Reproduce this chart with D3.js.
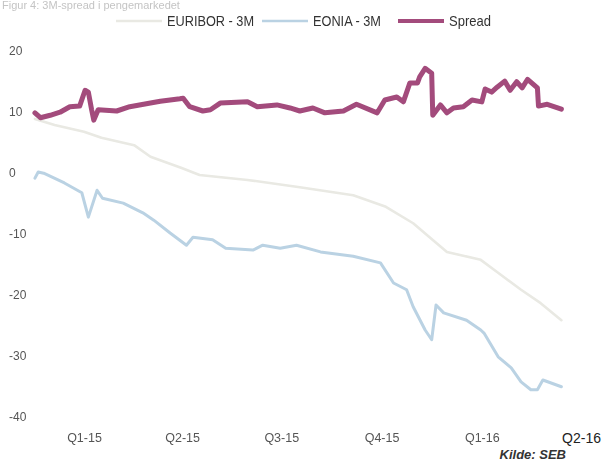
<!DOCTYPE html>
<html>
<head>
<meta charset="utf-8">
<script src="https://cdn.jsdelivr.net/npm/d3@7"></script>
<style>
  html, body { margin: 0; padding: 0; background: #fff; }
  svg { display: block; }
  text { font-family: "Liberation Sans", "DejaVu Sans", sans-serif; }
</style>
</head>
<body>
<svg id="chart" width="602" height="462"></svg>
<script>
// 3M money-market rates (basis points) and their spread
const euriborDates = ["2014-11-17","2014-12-05","2015-01-01","2015-01-17","2015-02-16","2015-03-03","2015-03-31","2015-04-17","2015-05-31","2015-07-18","2015-09-05","2015-10-05","2015-10-30","2015-11-20","2015-11-30","2015-12-31","2016-01-15","2016-02-06","2016-02-24","2016-03-14"];
const euriborValues = [8.7, 7.7, 6.6, 5.6, 4.4, 2.5, 0.7, -0.5, -1.3, -2.5, -3.8, -5.7, -8.4, -11.6, -13.1, -14.4, -16.4, -19.3, -21.5, -24.3];

const eoniaDates = ["2014-11-17","2014-11-20","2014-11-25","2014-12-14","2014-12-30","2015-01-05","2015-01-13","2015-01-18","2015-02-06","2015-02-24","2015-03-06","2015-03-21","2015-04-05","2015-04-11","2015-04-29","2015-05-11","2015-06-05","2015-06-14","2015-06-30","2015-07-15","2015-08-06","2015-09-05","2015-09-30","2015-10-12","2015-10-24","2015-10-30","2015-11-10","2015-11-16","2015-11-20","2015-11-27","2015-12-18","2015-12-31","2016-01-03","2016-01-16","2016-01-28","2016-02-06","2016-02-15","2016-02-21","2016-02-26","2016-03-14"];
const eoniaValues = [-1.0, 0.0, -0.2, -1.8, -3.4, -7.4, -3.0, -4.3, -5.1, -6.7, -7.9, -10.0, -12.0, -10.7, -11.1, -12.5, -12.8, -12.0, -12.5, -12.0, -13.1, -13.8, -14.9, -18.2, -19.3, -22.1, -25.9, -27.5, -21.8, -23.1, -24.3, -25.9, -26.4, -30.3, -32.1, -34.4, -35.7, -35.7, -34.1, -35.2];

const spreadDates = ["2014-11-17","2014-11-22","2014-12-01","2014-12-10","2014-12-19","2014-12-28","2015-01-02","2015-01-05","2015-01-08","2015-01-10","2015-01-14","2015-01-31","2015-02-12","2015-03-03","2015-03-12","2015-03-30","2015-04-02","2015-04-08","2015-04-20","2015-04-27","2015-05-06","2015-05-31","2015-06-09","2015-06-27","2015-07-09","2015-07-18","2015-07-30","2015-08-10","2015-08-27","2015-09-08","2015-09-27","2015-10-04","2015-10-15","2015-10-21","2015-10-27","2015-11-03","2015-11-05","2015-11-10","2015-11-16","2015-11-17","2015-11-24","2015-11-30","2015-12-06","2015-12-15","2015-12-23","2016-01-01","2016-01-04","2016-01-10","2016-01-15","2016-01-22","2016-01-27","2016-02-02","2016-02-07","2016-02-12","2016-02-21","2016-02-22","2016-03-01","2016-03-14"];
const spreadValues = [9.7, 8.9, 9.3, 9.8, 10.7, 10.8, 13.4, 13.1, 10.2, 8.5, 10.2, 10.0, 10.7, 11.3, 11.6, 12.0, 12.1, 10.7, 10.0, 10.2, 11.3, 11.5, 10.7, 11.0, 10.5, 10.0, 10.5, 9.7, 10.0, 11.1, 9.7, 11.8, 12.3, 11.5, 14.6, 14.6, 15.6, 17.0, 16.2, 9.3, 11.0, 9.7, 10.5, 10.7, 11.8, 11.5, 13.6, 13.1, 13.9, 14.9, 13.4, 14.8, 13.8, 15.2, 13.8, 10.8, 11.1, 10.3];

const quarterLabels = ["Q1-15", "Q2-15", "Q3-15", "Q4-15", "Q1-16", "Q2-16"];
const quarterDates = ["2015-01-01", "2015-04-01", "2015-07-01", "2015-10-01", "2016-01-01", "2016-04-01"];
const yTicks = [20, 10, 0, -10, -20, -30, -40];

const seriesNames = ["EURIBOR - 3M", "EONIA - 3M", "Spread"];
const seriesColors = ["#e9e9e3", "#bad2e3", "#a34b7c"];
const seriesWidths = [2.6, 3, 5];

const parse = d3.timeParse("%Y-%m-%d");
const svg = d3.select("#chart");

const x = d3.scaleTime()
  .domain([parse(quarterDates[0]), parse(quarterDates[quarterDates.length - 1])])
  .range([84, 581]);
const y = d3.scaleLinear().domain([-40, 20]).range([416, 50]);

// soft rendering
const defs = svg.append("defs");
defs.append("filter").attr("id", "soft")
  .append("feGaussianBlur").attr("stdDeviation", 0.45);

// faint heading along the top edge
svg.append("text")
  .attr("x", 2).attr("y", 9)
  .attr("font-size", 11).attr("fill", "#c4c4c4")
  .attr("filter", "url(#soft)")
  .text("Figur 4: 3M-spread i pengemarkedet");

// y axis labels
const yAxis = d3.axisLeft(y).tickValues(yTicks).tickSize(0).tickFormat(d => String(d));
const gy = svg.append("g").attr("transform", "translate(9,0)").call(yAxis);
gy.select(".domain").remove();
gy.selectAll("text")
  .attr("x", 0).attr("text-anchor", "start").attr("dy", "0.35em")
  .attr("font-size", 12).attr("fill", "#555")
  .attr("filter", "url(#soft)");

// x axis labels
const xAxis = d3.axisBottom(x)
  .tickValues(quarterDates.map(parse))
  .tickSize(0)
  .tickFormat((d, i) => quarterLabels[i]);
const gx = svg.append("g").attr("transform", "translate(0,430)").call(xAxis);
gx.select(".domain").remove();
const lastQ = quarterLabels.length - 1;
gx.selectAll("text")
  .attr("filter", (d, i) => i === lastQ ? null : "url(#soft)")
  .attr("fill", (d, i) => i === lastQ ? "#222" : "#555")
  .attr("font-size", (d, i) => i === lastQ ? 14 : 12.5);

// lines
const series = [
  { dates: euriborDates, values: euriborValues },
  { dates: eoniaDates, values: eoniaValues },
  { dates: spreadDates, values: spreadValues }
];
const line = d3.line().x(d => x(d.date)).y(d => y(d.value));
series.forEach((s, i) => {
  const pts = s.dates.map((dt, j) => ({ date: parse(dt), value: s.values[j] }));
  svg.append("path")
    .datum(pts)
    .attr("d", line)
    .attr("fill", "none")
    .attr("stroke", seriesColors[i])
    .attr("stroke-width", seriesWidths[i])
    .attr("stroke-linejoin", "round")
    .attr("stroke-linecap", "round")
    .attr("filter", "url(#soft)");
});

// legend
const legendSwatchX = [116, 262, 398];
const legendTextLen = [87, 68, 42];
const legend = svg.append("g").attr("filter", "url(#soft)");
seriesNames.forEach((name, i) => {
  legend.append("line")
    .attr("x1", legendSwatchX[i]).attr("x2", legendSwatchX[i] + 46)
    .attr("y1", 21).attr("y2", 21)
    .attr("stroke", seriesColors[i])
    .attr("stroke-width", i === 2 ? 4 : 2.5);
  legend.append("text")
    .attr("x", legendSwatchX[i] + 51).attr("y", 26)
    .attr("font-size", 15).attr("fill", "#333")
    .attr("textLength", legendTextLen[i]).attr("lengthAdjust", "spacingAndGlyphs")
    .text(name);
});

// source note
svg.append("text")
  .attr("x", 566).attr("y", 459)
  .attr("text-anchor", "end")
  .attr("font-size", 13).attr("font-style", "italic").attr("font-weight", "bold")
  .attr("fill", "#333")
  .text("Kilde: SEB");
</script>
</body>
</html>
